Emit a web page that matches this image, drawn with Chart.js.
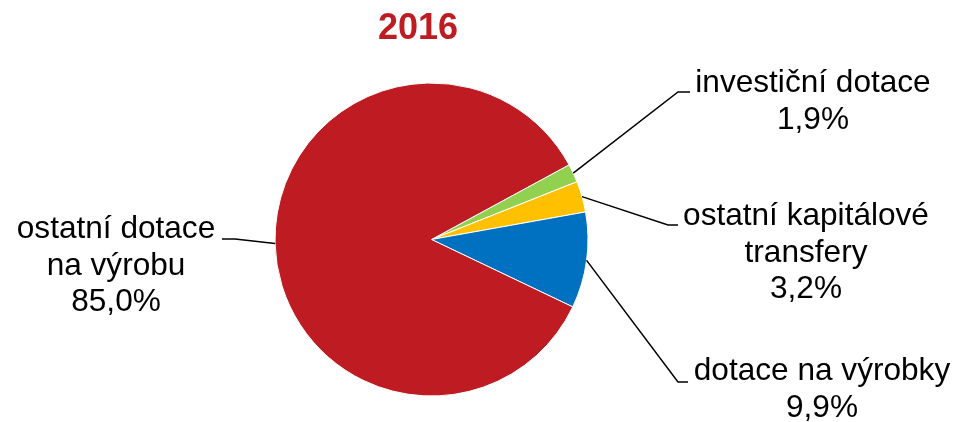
<!DOCTYPE html>
<html>
<head>
<meta charset="utf-8">
<script src="https://cdn.jsdelivr.net/npm/chart.js@4/dist/chart.umd.min.js"></script>
<style>
  html, body { margin: 0; padding: 0; background: #fff; }
  canvas { display: block; }
</style>
</head>
<body>
<canvas id="pie" width="958" height="422"></canvas>
<script>
const title = "2016";
const categories = [
  ["investiční dotace"],
  ["ostatní kapitálové", "transfery"],
  ["dotace na výrobky"],
  ["ostatní dotace", "na výrobu"],
];
const values = [1.9, 3.2, 9.9, 85.0];
const colors = ["#92D050", "#FFC000", "#0070C0", "#BE1B22"];

// label placement: text centre x, first baseline y, elbow x/y, end of leader x
const labelPos = [
  { x: 813, y: 92, ex: 678, ey: 92, tx: 690 },
  { x: 806, y: 225, ex: 668, ey: 225, tx: 678 },
  { x: 822, y: 380, ex: 678, ey: 382, tx: 688 },
  { x: 116, y: 238, ex: 235, ey: 239, tx: 222 },
];

const fmt = (v) => v.toFixed(1).replace(".", ",") + "%";

const labelPlugin = {
  id: "pieLabels",
  afterDraw(chart) {
    const ctx = chart.ctx;
    const meta = chart.getDatasetMeta(0);
    ctx.save();

    // title
    ctx.fillStyle = "#BE1B22";
    ctx.font = "bold 36px 'Liberation Sans', Arial, sans-serif";
    ctx.textAlign = "center";
    ctx.textBaseline = "alphabetic";
    ctx.fillText(title, 418, 39);

    ctx.font = "31.6px 'Liberation Sans', Arial, sans-serif";
    ctx.fillStyle = "#000";
    ctx.strokeStyle = "#000";
    ctx.lineWidth = 1.5;
    meta.data.forEach((arc, i) => {
      const p = labelPos[i];
      const mid = (arc.startAngle + arc.endAngle) / 2;
      const sx = arc.x + Math.cos(mid) * arc.outerRadius;
      const sy = arc.y + Math.sin(mid) * arc.outerRadius;
      ctx.beginPath();
      ctx.moveTo(sx, sy);
      ctx.lineTo(p.ex, p.ey);
      ctx.lineTo(p.tx, p.ey);
      ctx.stroke();

      const lines = categories[i].concat([fmt(values[i])]);
      lines.forEach((t, k) => {
        ctx.fillText(t, p.x, p.y + k * 36.5);
      });
    });
    ctx.restore();
  },
};

new Chart(document.getElementById("pie"), {
  type: "pie",
  data: {
    labels: categories,
    datasets: [
      {
        data: values,
        backgroundColor: colors,
        borderColor: "#fff",
        borderWidth: 1,
      },
    ],
  },
  options: {
    responsive: false,
    animation: false,
    events: [],
    rotation: 61.5,
    layout: {
      padding: { left: 274.5, right: 369.5, top: 82.5, bottom: 25.5 },
    },
    plugins: {
      legend: { display: false },
      tooltip: { enabled: false },
      title: { display: false },
    },
  },
  plugins: [labelPlugin],
});
</script>
</body>
</html>
